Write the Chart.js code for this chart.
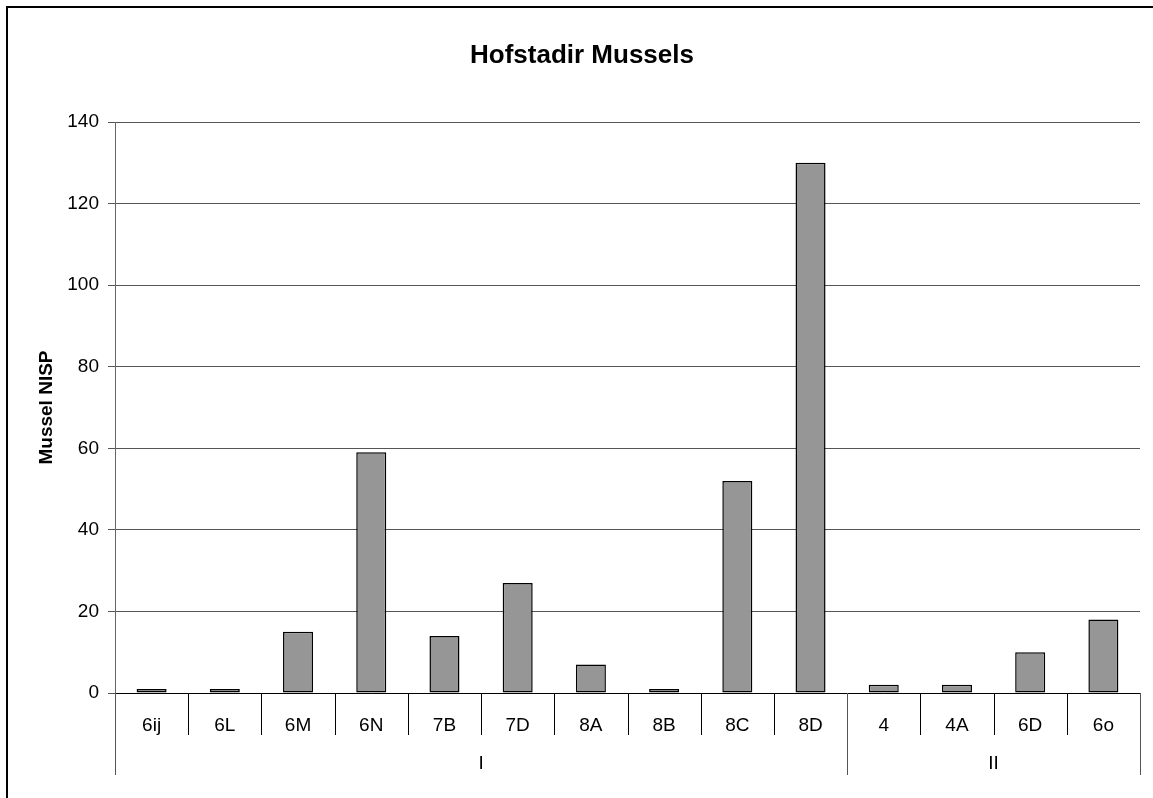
<!DOCTYPE html>
<html>
<head>
<meta charset="utf-8">
<title>Hofstadir Mussels</title>
<script src="https://cdn.jsdelivr.net/npm/chart.js@4/dist/chart.umd.min.js"></script>
<style>
    html, body { margin: 0; padding: 0; background: #fff; overflow: hidden; }
    #frame {
        position: absolute; left: 6px; top: 6px;
        width: 1300px; height: 1000px;
        border: 2px solid #000; box-sizing: border-box;
    }
    #wrap { position: absolute; left: 0; top: 0; width: 1153px; height: 798px; }
</style>
</head>
<body>
<div id="frame"></div>
<div id="wrap"><canvas id="myChart" width="1153" height="798"></canvas></div>
<script>
// Contextos e quantidade de mexilhões (NISP)
const contextos = ['6ij', '6L', '6M', '6N', '7B', '7D', '8A', '8B', '8C', '8D', '4', '4A', '6D', '6o'];
const nisp = [1, 1, 15, 59, 14, 27, 7, 1, 52, 130, 2, 2, 10, 18];
// Fases: nome e quantos contextos pertencem a cada uma
const fases = ['I', 'II'];
const fasesTamanho = [10, 4];
const yTicks = [0, 20, 40, 60, 80, 100, 120, 140];

const fonte = "'Liberation Sans', Arial, sans-serif";

// Linhas divisórias do eixo x, rótulos das fases e títulos
const eixoAgrupado = {
    id: 'eixoAgrupado',
    afterDraw(chart) {
        const ctx = chart.ctx;
        const x = chart.scales.x;
        const area = chart.chartArea;
        const meia = (x.getPixelForValue(1) - x.getPixelForValue(0)) / 2;
        const base = area.bottom;

        ctx.save();
        ctx.lineWidth = 1;

        // separadores entre contextos
        ctx.strokeStyle = '#000';
        for (let i = 1; i < contextos.length; i++) {
            const px = Math.round(x.getPixelForValue(i) - meia) + 0.5;
            ctx.beginPath();
            ctx.moveTo(px, base);
            ctx.lineTo(px, base + 42);
            ctx.stroke();
        }

        // separadores das fases (mais longos)
        ctx.strokeStyle = '#555';
        let inicio = 0;
        const limites = [0];
        fasesTamanho.forEach(n => { inicio += n; limites.push(inicio); });
        limites.forEach(idx => {
            const px = Math.round(x.getPixelForValue(idx) - meia) + 0.5;
            ctx.beginPath();
            ctx.moveTo(px, base);
            ctx.lineTo(px, base + 82);
            ctx.stroke();
        });

        // rótulos das fases
        ctx.fillStyle = '#000';
        ctx.font = '19px ' + fonte;
        ctx.textAlign = 'center';
        ctx.textBaseline = 'alphabetic';
        for (let f = 0; f < fases.length; f++) {
            const a = x.getPixelForValue(limites[f]) - meia;
            const b = x.getPixelForValue(limites[f + 1]) - meia;
            ctx.fillText(fases[f], (a + b) / 2, base + 76);
        }

        // título principal
        ctx.font = 'bold 26px ' + fonte;
        ctx.fillText('Hofstadir Mussels', 582, 63);

        // título do eixo y
        ctx.translate(52, (area.top + area.bottom) / 2);
        ctx.rotate(-Math.PI / 2);
        ctx.font = 'bold 19px ' + fonte;
        ctx.fillText('Mussel NISP', 0, 0);
        ctx.restore();
    }
};

const ctx = document.getElementById('myChart').getContext('2d');
new Chart(ctx, {
    type: 'bar',
    data: {
        labels: contextos,
        datasets: [{
            label: 'Mussel NISP',
            data: nisp,
            backgroundColor: '#969696',
            borderColor: '#000',
            borderWidth: 1.5,
            borderSkipped: false,
            barPercentage: 0.41,
            categoryPercentage: 1
        }]
    },
    options: {
        responsive: false,
        animation: false,
        layout: { padding: { left: 0, top: 122, right: 13, bottom: 0 } },
        plugins: {
            legend: { display: false },
            tooltip: { enabled: false }
        },
        scales: {
            x: {
                afterFit: scale => { scale.height = 105; },
                grid: { display: false },
                border: { color: '#000', width: 1 },
                ticks: {
                    color: '#000',
                    font: { family: fonte, size: 19 },
                    padding: 13,
                    maxRotation: 0,
                    autoSkip: false
                }
            },
            y: {
                min: 0,
                max: 140,
                afterFit: scale => { scale.width = 115; },
                afterBuildTicks: scale => { scale.ticks = yTicks.map(v => ({ value: v })); },
                grid: { color: '#555', lineWidth: 1, tickLength: 7 },
                border: { color: '#666', width: 1 },
                ticks: {
                    color: '#000',
                    font: { family: fonte, size: 19 },
                    padding: 9
                }
            }
        }
    },
    plugins: [eixoAgrupado]
});
</script>
</body>
</html>
